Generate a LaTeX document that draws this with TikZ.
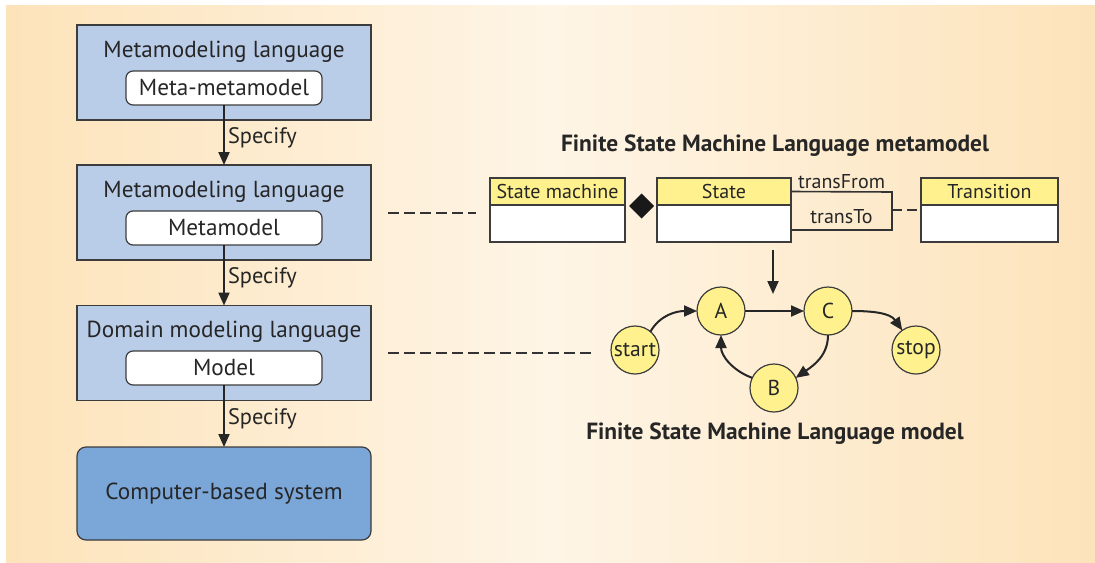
\documentclass[tikz,border=0pt]{standalone}
\usepackage{fontspec}
\setmainfont{PT Sans}
\usetikzlibrary{positioning,arrows.meta,calc,shapes.geometric}

\definecolor{bgside}{HTML}{FDE3BA}
\definecolor{bgmid}{HTML}{FEF5E6}
\definecolor{taalblauw}{HTML}{B9CDE9}
\definecolor{systeemblauw}{HTML}{7BA6D8}
\definecolor{geel}{HTML}{FFF28E}
\definecolor{rand}{HTML}{3C3C3C}

\begin{document}
\begin{tikzpicture}[
  x=0.5pt, y=-0.5pt,
  every node/.style={font=\fontsize{11.6}{13}\selectfont, text=black!85, outer sep=0pt},
  taal/.style={draw=rand, fill=taalblauw, line width=0.6pt, minimum width=147pt, minimum height=47.5pt},
  model/.style={draw=rand, fill=white, rounded corners=3.5pt, line width=0.6pt, minimum width=98pt, minimum height=17pt, inner sep=0pt},
  systeem/.style={draw=rand, fill=systeemblauw, rounded corners=4.5pt, line width=0.6pt, minimum width=147pt, minimum height=46.5pt},
  kop/.style={draw=rand, fill=geel, line width=0.6pt, minimum height=13.5pt, inner sep=0pt, font=\fontsize{10}{12}\selectfont},
  romp/.style={draw=rand, fill=white, line width=0.6pt, minimum height=18.5pt, inner sep=0pt},
  toestand/.style={circle, draw=rand, fill=geel, line width=0.6pt, minimum size=24pt, inner sep=0pt, font=\fontsize{10.8}{12}\selectfont},
  titel/.style={font=\fontsize{11.7}{13}\selectfont\bfseries},
  rol/.style={font=\fontsize{10}{12}\selectfont},
  spec/.style={right, inner sep=2pt, yshift=-1.5pt, font=\fontsize{11.2}{13}\selectfont},
  pil/.style={-{Triangle[length=6.5pt, width=5.5pt]}, line width=1pt, draw=black!85},
  boog/.style={-{Triangle[length=6.5pt, width=5.5pt]}, line width=1pt, draw=black!85},
  streep/.style={line width=0.9pt, draw=black!80, dash pattern=on 5.5pt off 2.5pt}
]
% achtergrond
\shade[left color=bgside, right color=bgside, middle color=bgmid] (6,5) rectangle (1095,562);
\useasboundingbox (0,0) rectangle (1095,562);

% linker kolom
\node[taal] (taal1) at (224,72.5) {};
\node (naam1) at (224,52) {Metamodeling language};
\node[model] (mmm) at (224,88) {Meta-metamodel};

\node[taal] (taal2) at (224,212.5) {};
\node (naam2) at (224,192) {Metamodeling language};
\node[model] (mm) at (224,228) {Metamodel};

\node[taal] (taal3) at (224,353) {};
\node (naam3) at (224,332) {Domain modeling language};
\node[model] (mod) at (224,368) {Model};

\node[systeem] (sys) at (224,493.5) {Computer-based system};

\draw[pil] (mmm.south) -- node[spec]{Specify} (taal2.north);
\draw[pil] (mm.south) -- node[spec]{Specify} (taal3.north);
\draw[pil] (mod.south) -- node[spec]{Specify} (sys.north);

% metamodel
\node[titel] (metatitel) at (775,146) {Finite State Machine Language metamodel};
\node[kop, minimum width=67.5pt] (smkop) at (557.5,191.5) {State machine};
\node[romp, minimum width=67.5pt, below=0pt of smkop] (smromp) {};
\node[kop, minimum width=67pt] (stkop) at (724,191.5) {State};
\node[romp, minimum width=67pt, below=0pt of stkop] (stromp) {};
\node[kop, minimum width=68.5pt] (trkop) at (989.5,191.5) {Transition};
\node[romp, minimum width=68.5pt, below=0pt of trkop] (trromp) {};
\node[diamond, fill=black!90, minimum size=12.5pt, inner sep=0pt] (ruit) at (641.5,206) {};

\coordinate (vanhoek) at (892,192);
\coordinate (naarhoek) at (892,230);
\coordinate (midhoek) at (892,210);
\draw[line width=0.8pt, draw=black!80] (stkop.east) -- node[above, inner sep=1.5pt, rol]{transFrom} (vanhoek)
  -- (naarhoek) -- node[above, inner sep=3pt, rol]{transTo} (stromp.east |- naarhoek);
\draw[line width=0.9pt, draw=black!80, dash pattern=on 5pt off 2.5pt] (midhoek) -- (trromp.west |- midhoek);

% streeplijnen
\coordinate (streep1a) at (388,213);
\coordinate (streep1b) at (476,213);
\coordinate (streep2a) at (388,353);
\coordinate (streep2b) at (592,353);
\draw[streep] (streep1a) -- (streep1b);
\draw[streep] (streep2a) -- (streep2b);

% instantie
\coordinate (pijltop) at (773,250);
\coordinate (pijlvoet) at (773,294);
\draw[pil] (pijltop) -- (pijlvoet);

\node[toestand] (start) at (635,350) {start};
\node[toestand] (A) at (721,311) {A};
\node[toestand] (C) at (828,311) {C};
\node[toestand] (B) at (774,388) {B};
\node[toestand] (stop) at (916,350) {stop};

\draw[boog] (start.50) to[out=60, in=180] (A.west);
\draw[boog] (A.east) -- (C.west);
\draw[boog] (C.east) to[out=0, in=125] (stop.125);
\draw[boog] (C.-90) to[out=-90, in=35] (B.25);
\draw[boog] (B.155) to[out=160, in=-90] (A.south);

\node[titel] (modeltitel) at (775,434) {Finite State Machine Language model};
\end{tikzpicture}
\end{document}
